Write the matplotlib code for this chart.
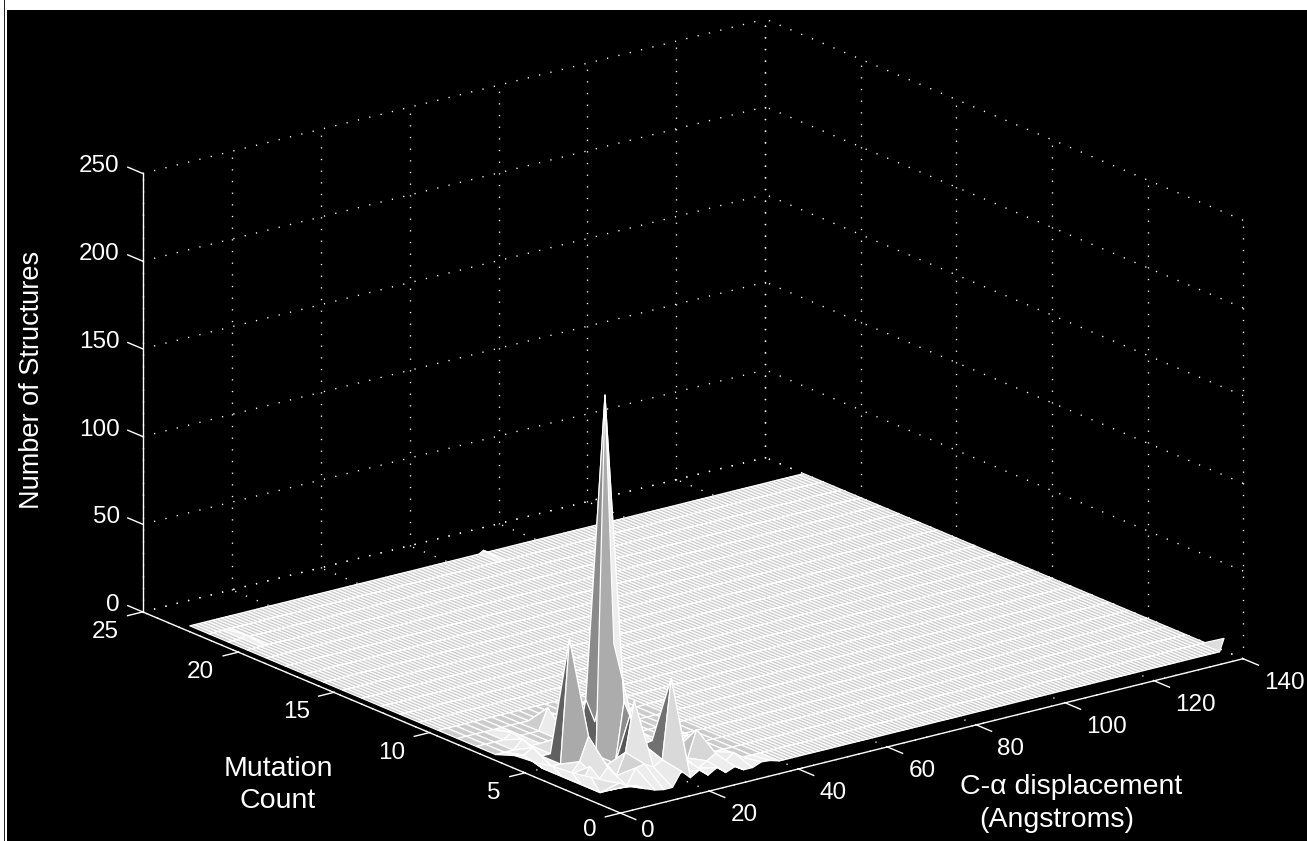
import numpy as np
import matplotlib
matplotlib.use('Agg')
import matplotlib.pyplot as plt
from matplotlib.patches import Rectangle
from mpl_toolkits.mplot3d import proj3d

plt.rcParams['font.family'] = ['Liberation Sans', 'DejaVu Sans']

W, H = 1307, 841

# tick values
x_ticks = [0, 20, 40, 60, 80, 100, 120, 140]
y_ticks = [0, 5, 10, 15, 20, 25]
z_ticks = [0, 50, 100, 150, 200, 250]

# tall spikes
spike_x = [18, 20, 18, 18, 10, 10, 12, 16, 20, 22, 20, 20, 12, 20, 18]
spike_y = [5, 5, 6, 4, 5, 4, 5, 3, 2, 5, 6, 4, 4, 3, 3]
spike_z = [204, 61, 26, 34, 70, 19, 11, 40, 55, 10, 12, 20, 8, 15, 14]

# low ripple round the origin and the few stray bumps
low_x = [2, 2, 2, 2, 2, 2, 4, 6, 8, 10, 12, 4, 6, 18, 8, 10, 12, 8, 6, 10, 12, 14, 14, 16, 18,
         18, 20, 22, 24, 26, 28, 30, 24, 24, 26, 30, 30, 34, 36, 38, 32, 26, 24, 22, 28, 22,
         140, 68, 6]
low_y = [6, 5, 4, 3, 2, 1, 1, 1, 1, 1, 1, 6, 6, 8, 7, 8, 6, 4, 3, 3, 2, 3, 2, 2, 2,
         1, 1, 1, 1, 1, 1, 1, 2, 3, 3, 3, 2, 2, 1, 1, 4, 4, 5, 4, 2, 3,
         1, 23, 21]
low_z = [4, 5, 7, 8, 10, 12, 10, 7, 6, 3, 1, 3, 6, 12, 5, 3, 8, 6, 9, 6, 9, 12, 10, 7, 10,
         8, 3, 6, 2, 5, 1, 3, 5, 8, 4, 15, 6, 4, 2, 1.5, 6, 6, 5, 8, 3, 14,
         7, 1.5, 1.5]

heights = {(a, b): c for a, b, c in zip(low_x + spike_x, low_y + spike_y, low_z + spike_z)}

fig = plt.figure(figsize=(W / 100, H / 100), dpi=100, facecolor='white')
fig.add_artist(Rectangle((7 / W, 0), 1, (H - 10) / H, transform=fig.transFigure, color='black', lw=0, zorder=-2))
fig.add_artist(Rectangle((3.5 / W, 0), 1.5 / W, 1, transform=fig.transFigure, color='#222222', lw=0, zorder=-2))

S = 1400
cx, cy = 674, 435
ax = fig.add_axes([(cx - S / 2) / W, (H - cy - S / 2) / H, S / W, S / H], projection='3d', computed_zorder=False)
ax.set_proj_type('ortho')
ax.view_init(elev=18.85, azim=-127.5)
ax.set_box_aspect((786, 786, 464), zoom=0.834)
ax.set_axis_off()
ax.patch.set_visible(False)


def draw_patch(x_nodes, y_nodes, zorder):
    X, Y = np.meshgrid(x_nodes, y_nodes)
    Z = np.zeros(X.shape)
    for i, b in enumerate(y_nodes):
        for j, a in enumerate(x_nodes):
            Z[i, j] = heights.get((int(a), int(b)), 0)
    # lit grey per face, like surfl
    px_x, px_y, px_z = X * 786 / 140, Y * 786 / 25, Z * 464 / 250
    d1 = np.stack([px_x[1:, 1:] - px_x[:-1, :-1], px_y[1:, 1:] - px_y[:-1, :-1], px_z[1:, 1:] - px_z[:-1, :-1]], -1)
    d2 = np.stack([px_x[1:, :-1] - px_x[:-1, 1:], px_y[1:, :-1] - px_y[:-1, 1:], px_z[1:, :-1] - px_z[:-1, 1:]], -1)
    n = np.cross(d2, d1)
    n = n / np.linalg.norm(n, axis=-1, keepdims=True)
    n = n * np.sign(n[..., 2:3])
    grey = np.clip(0.66 + 0.3 * n[..., 2] + 0.6 * (0.25 * n[..., 0] - 0.97 * n[..., 1]), 0.3, 0.93)
    # low faces stay pale, the flat floor a bit darker so the white mesh shows
    top = np.stack([Z[:-1, :-1], Z[:-1, 1:], Z[1:, :-1], Z[1:, 1:]]).max(axis=0)
    w = np.clip(top / 30, 0, 1)
    pale = np.where(top > 0, 0.93, 0.8)
    grey = pale * (1 - w) + grey * w
    fc = np.ones(X.shape + (4,))
    fc[:-1, :-1, 0] = grey
    fc[:-1, :-1, 1] = grey
    fc[:-1, :-1, 2] = grey
    surf = ax.plot_surface(X, Y, Z, facecolors=fc, rstride=1, cstride=1, shade=False, linewidth=0.9, zorder=zorder)
    surf.set_edgecolor('white')


draw_patch(np.arange(2, 141), np.arange(10, 24), 2)
draw_patch(np.arange(40, 141), np.arange(1, 11), 2.1)
draw_patch(np.arange(2, 41, 2), np.arange(1, 11), 2.2)

# dotted grid on the two back walls and the floor
dots = dict(color='white', lw=1.0, linestyle=(0, (0.9, 7.5)), zorder=1)
for v in x_ticks:
    ax.plot([v, v], [25, 25], [0, 250], **dots)
    ax.plot([v, v], [0, 25], [0, 0], **dots)
for v in y_ticks:
    ax.plot([140, 140], [v, v], [0, 250], **dots)
    ax.plot([0, 140], [v, v], [0, 0], **dots)
for v in z_ticks:
    ax.plot([0, 140], [25, 25], [v, v], **dots)
    ax.plot([140, 140], [0, 25], [v, v], **dots)

# solid axes and tick marks
solid = dict(color='white', lw=1.0, zorder=3)
ax.plot([0, 140], [0, 0], [0, 0], **solid)
ax.plot([0, 0], [0, 25], [0, 0], **solid)
ax.plot([0, 0], [25, 25], [0, 250], **solid)
for v in x_ticks:
    ax.plot([v, v], [0, -0.8], [0, 0], **solid)
for v in y_ticks:
    ax.plot([0, -3.4], [v, v], [0, 0], **solid)
for v in z_ticks:
    ax.plot([0, 0], [25, 25.78], [v, v], **solid)

ax.set_xlim(0, 140)
ax.set_ylim(0, 25)
ax.set_zlim(0, 250)


def tick_label(x, y, z, txt, dx, dy, ha):
    px, py, _ = proj3d.proj_transform(x, y, z, ax.get_proj())
    ax.annotate(txt, (px, py), xytext=(dx, dy), textcoords='offset pixels', ha=ha, va='center',
                color='white', fontsize=17.5, annotation_clip=False)


for v in x_ticks:
    # the 0 would run off the bottom edge
    tick_label(v, 0, 0, str(v), 21, -18 if v == 0 else -24, 'left')
for v in y_ticks:
    tick_label(0, v, 0, str(v), -24, -17 if v == 0 else -20, 'right')
for v in z_ticks:
    tick_label(0, 25, v, str(v), -23, 7, 'right')

fig.text(32 / W, 1 - 380 / H, 'Number of Structures', color='white', fontsize=19.5, rotation=90, ha='center', va='center')
fig.text(278 / W, 1 - 769 / H, 'Mutation', color='white', fontsize=20.5, ha='center', va='center')
fig.text(278 / W, 1 - 801 / H, 'Count', color='white', fontsize=20.5, ha='center', va='center')
fig.text(1071 / W, 1 - 787 / H, 'C-α displacement', color='white', fontsize=20.5, ha='center', va='center')
fig.text(1057 / W, 1 - 820 / H, '(Angstroms)', color='white', fontsize=20.5, ha='center', va='center')

fig.savefig('out.png', dpi=100)
